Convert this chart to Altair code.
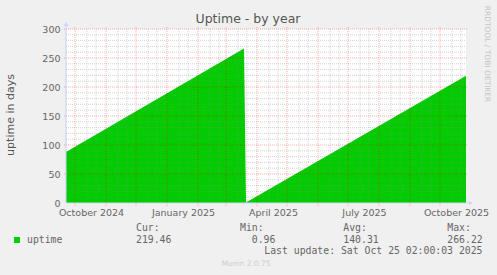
import altair as alt
import pandas as pd

# ---- data ----
dates = ["2024-09-22T00:00:00", "2025-03-19T00:00:00", "2025-03-21T00:00:00", "2025-10-27T00:00:00"]
uptime = [88.0, 266.22, 0.96, 219.46]
segment = ["boot1", "boot1", "boot2", "boot2"]

month_starts = ["2024-10-01", "2024-11-01", "2024-12-01", "2025-01-01", "2025-02-01",
                "2025-03-01", "2025-04-01", "2025-05-01", "2025-06-01", "2025-07-01",
                "2025-08-01", "2025-09-01", "2025-10-01"]
minor_days = ["2024-09-22", "2024-10-13", "2024-10-22", "2024-11-13", "2024-11-22",
              "2024-12-13", "2024-12-22", "2025-01-13", "2025-01-22", "2025-02-13",
              "2025-02-22", "2025-03-13", "2025-03-22", "2025-04-13", "2025-04-22",
              "2025-05-13", "2025-05-22", "2025-06-13", "2025-06-22", "2025-07-13",
              "2025-07-22", "2025-08-13", "2025-08-22", "2025-09-13", "2025-09-22",
              "2025-10-13", "2025-10-22"]
x_label_dates = [(2024, 10, 17), (2025, 1, 17), (2025, 4, 17), (2025, 7, 17), (2025, 10, 17)]
y_major = [50, 100, 150, 200, 250, 300]
y_minor = [10, 20, 30, 40, 60, 70, 80, 90, 110, 120, 130, 140, 160, 170, 180, 190,
           210, 220, 230, 240, 260, 270, 280, 290]
y_labels = [0, 50, 100, 150, 200, 250, 300]

stat_names = ["Cur:", "Min:", "Avg:", "Max:"]
stat_values = ["219.46", "0.96", "140.31", "266.22"]
series_name = "uptime"
title_text = "Uptime - by year"
y_title = "uptime in days"
last_update = "Last update: Sat Oct 25 02:00:03 2025"
footer = "Munin 2.0.75"
watermark = "RRDTOOL / TOBI OETIKER"

# ---- layout ----
W, H = 400, 174
LEFT, TOP = 66, 29
FONT = "#666666"
AXIS = "#CFD6F8"
GREEN = "#00CC00"
GRID = "rgba(143,143,143,0.38)"
MGRID = "rgba(255,0,0,0.33)"

df = pd.DataFrame({"date": dates, "uptime": uptime, "seg": segment})

xscale = alt.Scale(domain=[alt.DateTime(year=2024, month=9, date=22),
                           alt.DateTime(year=2025, month=10, date=27)])
yscale = alt.Scale(domain=[0, 300], nice=False)

xaxis = alt.Axis(values=[alt.DateTime(year=y, month=m, date=d) for y, m, d in x_label_dates],
                 format="%B %Y", title=None, grid=False, ticks=False, domain=False,
                 labelFont="DejaVu Sans", labelFontSize=9.5, labelColor=FONT,
                 labelPadding=4, labelFlush=False, labelOverlap=False, labelBound=False)
yaxis = alt.Axis(values=y_labels, title=None, grid=False, ticks=False, domain=False,
                 labelFont="DejaVu Sans", labelFontSize=9.5, labelColor=FONT,
                 labelPadding=6)

area = alt.Chart(df).mark_area(color=GREEN, interpolate="linear").encode(
    x=alt.X("date:T", scale=xscale, axis=xaxis),
    y=alt.Y("uptime:Q", scale=yscale, axis=yaxis),
    detail="seg:N",
)

hminor = alt.Chart(pd.DataFrame({"v": y_minor})).mark_rule(
    color=GRID, strokeDash=[1, 1], strokeWidth=1).encode(
    y=alt.Y("v:Q", scale=yscale, axis=yaxis), x=alt.value(0), x2=alt.value(W))
vminor = alt.Chart(pd.DataFrame({"d": minor_days})).mark_rule(
    color=GRID, strokeDash=[1, 1], strokeWidth=1).encode(
    x=alt.X("d:T", scale=xscale, axis=xaxis), y=alt.value(0), y2=alt.value(H))
hmajor = alt.Chart(pd.DataFrame({"v": y_major})).mark_rule(
    color=MGRID, strokeDash=[1, 1], strokeWidth=1).encode(
    y=alt.Y("v:Q", scale=yscale, axis=yaxis), x=alt.value(-2), x2=alt.value(W + 2))
vmajor = alt.Chart(pd.DataFrame({"d": month_starts})).mark_rule(
    color=MGRID, strokeDash=[1, 1], strokeWidth=1).encode(
    x=alt.X("d:T", scale=xscale, axis=xaxis), y=alt.value(-2), y2=alt.value(H + 3))

yaxis_line = alt.Chart(pd.DataFrame({"a": [0]})).mark_rule(color=AXIS, strokeWidth=1).encode(
    x=alt.value(0), y=alt.value(-4), y2=alt.value(H))
xaxis_line = alt.Chart(pd.DataFrame({"a": [0]})).mark_rule(color=AXIS, strokeWidth=1).encode(
    x=alt.value(0), x2=alt.value(W + 4), y=alt.value(H))
arrow_up = alt.Chart(pd.DataFrame({"a": [0]})).mark_point(
    shape="triangle-up", filled=True, color=AXIS, size=22, opacity=1).encode(
    x=alt.value(0), y=alt.value(-5))
arrow_right = alt.Chart(pd.DataFrame({"a": [0]})).mark_point(
    shape="triangle-right", filled=True, color=AXIS, size=22, opacity=1).encode(
    x=alt.value(W + 5), y=alt.value(H))


def txt(s, x, y, size, font="DejaVu Sans", color=FONT, align="left", angle=0):
    return alt.Chart(pd.DataFrame({"t": [s]})).mark_text(
        font=font, fontSize=size, color=color, align=align, baseline="middle", angle=angle).encode(
        text="t:N", x=alt.value(x), y=alt.value(y))


texts = [
    txt(title_text, 248 - LEFT, 19 - TOP, 12.5, align="center", color="#555555"),
    txt(y_title, 11 - LEFT, 115 - TOP, 11, align="center", angle=270, color="#555555"),
    txt(watermark, 487 - LEFT, 54 - TOP, 7.5, align="center", angle=90, color="#c4c4c4"),
    txt(series_name, 27 - LEFT, 240 - TOP, 9.8, font="DejaVu Sans Mono"),
    txt(last_update, 482.5 - LEFT, 251 - TOP, 9.8, font="DejaVu Sans Mono", align="right"),
    txt(footer, 246 - LEFT, 264 - TOP, 7.5, align="center", color="#cccccc"),
]
col_starts = [136, 240, 343.3, 447.3]
for name, val, cx in zip(stat_names, stat_values, col_starts):
    texts.append(txt(name, cx - LEFT, 227.5 - TOP, 9.8, font="DejaVu Sans Mono"))
    texts.append(txt(val, cx + 35.4 - LEFT, 239.5 - TOP, 9.8, font="DejaVu Sans Mono", align="right"))

swatch = alt.Chart(pd.DataFrame({"a": [0]})).mark_square(color=GREEN, size=36, opacity=1).encode(
    x=alt.value(17 - LEFT), y=alt.value(240 - TOP))

chart = alt.layer(
    area, hminor, vminor, hmajor, vmajor, yaxis_line, xaxis_line, arrow_up, arrow_right,
    swatch, *texts
).properties(
    width=W, height=H,
    autosize=alt.AutoSizeParams(type="none"),
    padding={"left": LEFT, "top": TOP, "right": 497 - LEFT - W, "bottom": 275 - TOP - H},
    background="#f0f0f0",
).configure_view(fill="white", stroke=None)

chart.save("out.html", embed_options={"renderer": "svg", "actions": False})
